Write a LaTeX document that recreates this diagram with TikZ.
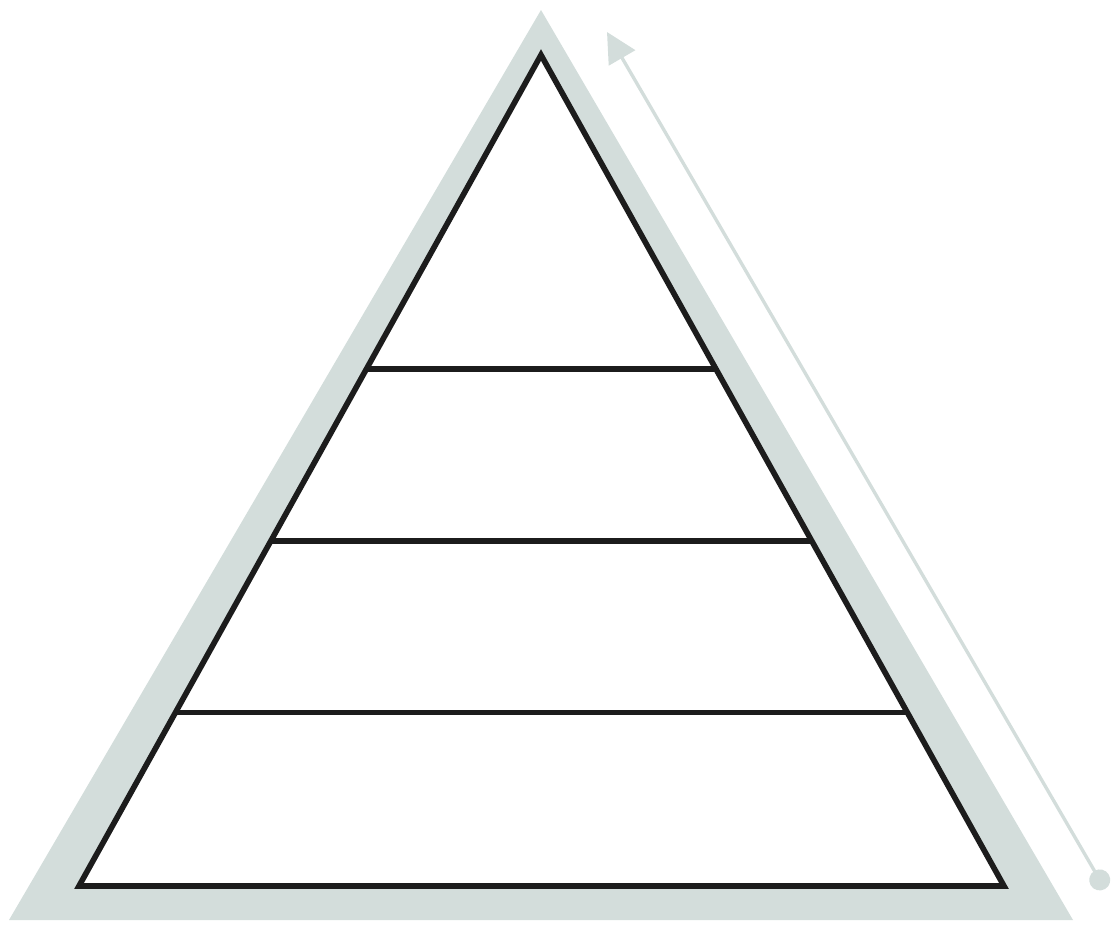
\documentclass[tikz,border=0pt]{standalone}
\usetikzlibrary{calc,arrows.meta}

\definecolor{sage}{HTML}{D3DDDB}
\definecolor{ink}{HTML}{1C1C1C}

\tikzset{
  backdrop/.style = {fill=sage, draw=none},
  outline/.style  = {draw=ink, line width=3.2pt, line join=miter, fill=white},
  tier/.style     = {draw=ink, line width=3.2pt},
  climb/.style    = {draw=sage, line width=1.9pt,
                     {Circle[length=0.42cm]}-{Triangle[length=0.6cm,width=0.6cm]}}
}

\begin{document}
\begin{tikzpicture}[x=0.02cm,y=-0.02cm]
 \useasboundingbox (0,0) rectangle (1116,927);

 % grey shadow triangle
 \coordinate (top) at (541,10);
 \coordinate (left) at (9,920);
 \coordinate (right) at (1073,920);
 \fill [backdrop] (top) -- (left) -- (right) -- cycle;

 % the pyramid
 \coordinate (apex) at (541,55);
 \coordinate (baseL) at (79,886);
 \coordinate (baseR) at (1004,886);
 \draw [outline] (apex) -- (baseL) -- (baseR) -- cycle;

 \foreach \t/\name in {0.378/one, 0.585/two, 0.791/three}{
   \draw [tier] ($(apex)!\t!(baseL)$) coordinate (tier \name\space west)
             -- ($(apex)!\t!(baseR)$) coordinate (tier \name\space east);
 }

 % arrow along the right side
 \coordinate (foot) at (1105,889);
 \coordinate (peak) at (607,32);
 \draw [climb] (foot) -- (peak);
\end{tikzpicture}
\end{document}
